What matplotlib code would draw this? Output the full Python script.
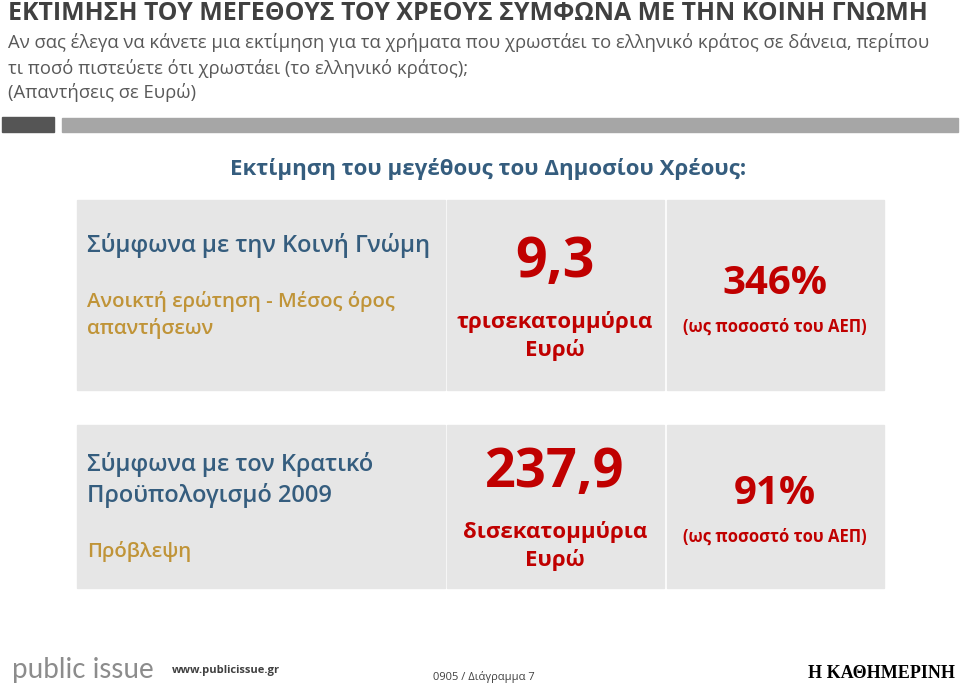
import matplotlib.pyplot as plt
from matplotlib.patches import Rectangle

plt.rcParams['font.family'] = ['Open Sans', 'DejaVu Sans']

# κειμενα
title = 'ΕΚΤΙΜΗΣΗ ΤΟΥ ΜΕΓΕΘΟΥΣ ΤΟΥ ΧΡΕΟΥΣ ΣΥΜΦΩΝΑ ΜΕ ΤΗΝ ΚΟΙΝΗ ΓΝΩΜΗ'
subtitle = ['Αν σας έλεγα να κάνετε μια εκτίμηση για τα χρήματα που χρωστάει το ελληνικό κράτος σε δάνεια, περίπου',
            'τι ποσό πιστεύετε ότι χρωστάει (το ελληνικό κράτος);',
            '(Απαντήσεις σε Ευρώ)']
heading = 'Εκτίμηση του μεγέθους του Δημοσίου Χρέους:'

# δεδομενα των δυο γραμμων
sources = ['Σύμφωνα με την Κοινή Γνώμη', 'Σύμφωνα με τον Κρατικό\nΠροϋπολογισμό 2009']
notes = ['Ανοικτή ερώτηση - Μέσος όρος\nαπαντήσεων', 'Πρόβλεψη']
amounts = ['9,3', '237,9']
units = ['τρισεκατομμύρια\nΕυρώ', 'δισεκατομμύρια\nΕυρώ']
pct_gdp = ['346%', '91%']

blue = '#355d7e'
gold = '#c09438'
red = '#c00000'
box = '#e6e6e6'

fig = plt.figure(figsize=(9.6, 6.87), dpi=100)
ax = fig.add_axes([0, 0, 1, 1])
ax.set_xlim(0, 960)
ax.set_ylim(687, 0)
ax.axis('off')

ax.text(8, 13, title, fontsize=17.9, fontweight='bold', color='#404040', va='center')
for i, line in enumerate(subtitle):
    ax.text(8, 43 + 25 * i, line, fontsize=13.35, color='#595959', va='center')

# barra cinza
ax.add_patch(Rectangle((2, 117), 52, 15, color='#555555'))
ax.add_patch(Rectangle((62, 118), 896, 14, color='#a6a6a6'))

ax.text(488, 169, heading, fontsize=16, fontweight='bold', color=blue, ha='center', va='center')

rows = [(200, 390), (425, 588)]
cols = [(77, 445), (447, 664), (667, 884)]
for r, (y0, y1) in enumerate(rows):
    for x0, x1 in cols:
        ax.add_patch(Rectangle((x0, y0), x1 - x0, y1 - y0, color=box))

# linha 1
ax.text(87, 245, sources[0], fontsize=17, fontweight='semibold', color=blue, va='center')
ax.text(87, 315, notes[0], fontsize=14.7, fontweight='semibold', color=gold, va='center', linespacing=1.35)
ax.text(555, 263, amounts[0], fontsize=40, fontweight='bold', color=red, ha='center', va='center')
ax.text(555, 336, units[0], fontsize=16, fontweight='bold', color=red, ha='center', va='center', linespacing=1.35)
ax.text(775, 284, pct_gdp[0], fontsize=29, fontweight='bold', color=red, ha='center', va='center')
ax.text(775, 327, '(ως ποσοστό του ΑΕΠ)', fontsize=12, fontweight='bold', color=red, ha='center', va='center')

# linha 2
ax.text(87, 480, sources[1], fontsize=17, fontweight='semibold', color=blue, va='center', linespacing=1.35)
ax.text(87, 552, notes[1], fontsize=14.7, fontweight='semibold', color=gold, va='center')
ax.text(555, 473, amounts[1], fontsize=39, fontweight='bold', color=red, ha='center', va='center')
ax.text(555, 546, units[1], fontsize=16, fontweight='bold', color=red, ha='center', va='center', linespacing=1.35)
ax.text(775, 494, pct_gdp[1], fontsize=29, fontweight='bold', color=red, ha='center', va='center')
ax.text(775, 537, '(ως ποσοστό του ΑΕΠ)', fontsize=12, fontweight='bold', color=red, ha='center', va='center')

# rodape
ax.text(12, 670, 'public issue', fontsize=20, color='#8c8c8c', va='center', family='Lato')
ax.text(172, 671, 'www.publicissue.gr', fontsize=8, fontweight='bold', color='#404040', va='center')
ax.text(433, 677, '0905 / Διάγραμμα 7', fontsize=8, color='#404040', va='center')
ax.text(955, 673, 'Η ΚΑΘΗΜΕΡΙΝΗ', fontsize=13, fontweight='bold', color='black', ha='right', va='center',
        family='Liberation Serif')

fig.savefig('out.png', dpi=100)
